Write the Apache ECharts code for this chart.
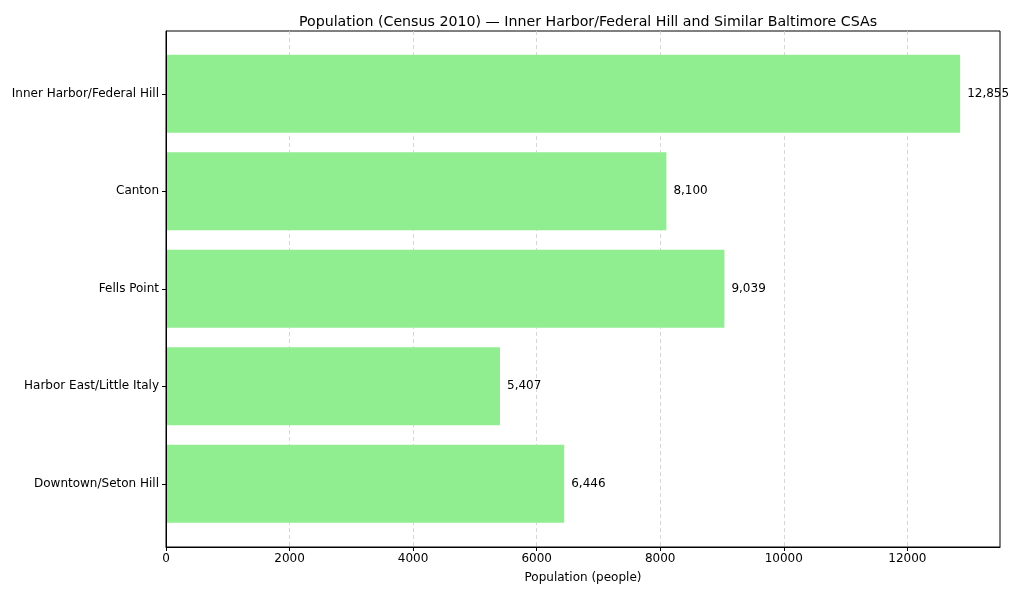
<!DOCTYPE html>
<html>
<head>
<meta charset="utf-8">
<script src="https://cdn.jsdelivr.net/npm/echarts@6/dist/echarts.min.js"></script>
<style>
html,body{margin:0;padding:0;background:#fff;}
#chart{width:1024px;height:597px;}
</style>
</head>
<body>
<div id="chart"></div>
<script>
const categories = ["Inner Harbor/Federal Hill", "Canton", "Fells Point", "Harbor East/Little Italy", "Downtown/Seton Hill"];
const populations = [12855, 8100, 9039, 5407, 6446];
const titleText = "Population (Census 2010) \u2014 Inner Harbor/Federal Hill and Similar Baltimore CSAs";
const xAxisName = "Population (people)";

const chart = echarts.init(document.getElementById('chart'));
const font = 'DejaVu Sans';
chart.setOption({
  animation: false,
  backgroundColor: '#fff',
  title: {
    text: titleText,
    left: 583, top: 10, textAlign: 'center',
    textStyle: {fontFamily: font, fontSize: 14.2, fontWeight: 'normal', color: '#000'}
  },
  grid: [
    {left: 166, right: 24, top: 31, bottom: 50, show: true, borderColor: '#000', borderWidth: 1, backgroundColor: 'transparent'},
    {left: 166, right: 24, top: 45, height: 487.5}
  ],
  xAxis: [
    {
      type: 'value', gridIndex: 0, min: 0, max: 13500, interval: 2000,
      name: xAxisName, nameLocation: 'middle', nameGap: 25,
      nameTextStyle: {fontFamily: font, fontSize: 12, color: '#000'},
      axisLine: {show: true, lineStyle: {color: '#000'}},
      axisTick: {show: true, length: 4, lineStyle: {color: '#000'}},
      axisLabel: {fontFamily: font, fontSize: 12, color: '#000', margin: 6, showMaxLabel: false,
                  formatter: v => String(v)},
      splitLine: {show: true, showMinLine: false, showMaxLine: false, lineStyle: {color: '#cccccc', type: [4, 3], width: 0.8}}
    },
    {type: 'value', gridIndex: 1, min: 0, max: 13500, show: false}
  ],
  yAxis: [
    {type: 'value', gridIndex: 0, z: 5,
     axisLine: {show: true, lineStyle: {color: '#000'}},
     axisTick: {show: false}, axisLabel: {show: false}, splitLine: {show: false}},
    {
      type: 'category', gridIndex: 1, data: categories, inverse: true,
      axisLine: {show: false},
      axisTick: {show: true, alignWithLabel: true, length: 4, lineStyle: {color: '#000'}},
      axisLabel: {fontFamily: font, fontSize: 12, color: '#000', margin: 7}
    }
  ],
  series: [{
    type: 'bar', xAxisIndex: 1, yAxisIndex: 1,
    data: populations, barWidth: '80%',
    itemStyle: {color: '#90EE90'},
    label: {
      show: true, position: 'right', distance: 7,
      fontFamily: font, fontSize: 12, color: '#000',
      formatter: p => p.value.toLocaleString('en-US')
    }
  }]
});
</script>
</body>
</html>
